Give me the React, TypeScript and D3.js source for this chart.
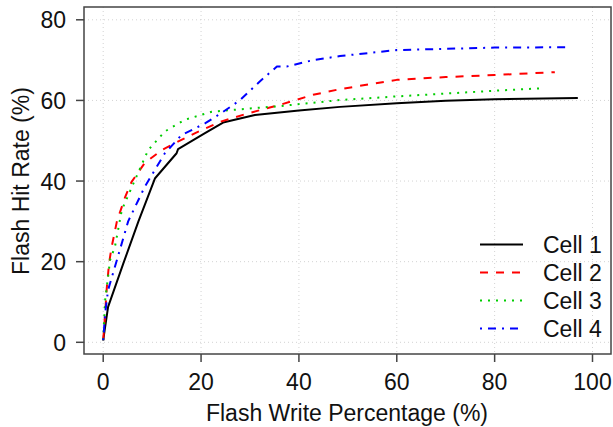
import React from 'react';
import * as d3 from 'd3';

// values
const cell1X = [0, 0.3, 1.0, 4.1, 7.2, 10.6, 15.0, 15.3, 20.8, 24.5, 31, 40, 48.4, 60, 70, 80, 90, 97];
const cell1Y = [0.5, 3, 8.8, 19.5, 30, 40.7, 46.9, 47.9, 51.9, 54.5, 56.4, 57.5, 58.4, 59.3, 59.9, 60.3, 60.5, 60.6];

const cell2X = [0, 0.4, 0.7, 1.2, 1.7, 2.8, 4.5, 5.8, 8.5, 12, 15, 18.8, 23.9, 29.3, 36.1, 42.9, 48.4, 60, 70, 80, 92.3];
const cell2Y = [0.5, 7.2, 13, 19.6, 23.5, 30, 36.1, 39.8, 44.5, 47.7, 49.6, 51.9, 54.7, 56.7, 58.9, 61.4, 62.8, 65.1, 65.8, 66.3, 67.0];

const cell3X = [0, 0.4, 1.0, 1.4, 2.4, 3.8, 6.5, 9.2, 12.6, 16.7, 22.2, 30, 36.1, 48.4, 60, 70, 80, 89.3];
const cell3Y = [0.5, 10.5, 16.3, 20.4, 23.7, 32.8, 40.3, 47.7, 52.3, 55.2, 57.2, 58, 58.6, 60.1, 61, 61.7, 62.4, 63.0];

const cell4X = [0, 0.4, 1.0, 2.8, 5.1, 8.5, 12.6, 16, 20.8, 24.3, 28, 32, 35.5, 37.5, 42.9, 48.4, 60, 70, 80, 94.7];
const cell4Y = [0.5, 7.2, 13, 20.4, 30, 38.6, 46.9, 51.4, 54.3, 57, 60.1, 64.7, 68.4, 68.4, 70, 71, 72.5, 72.8, 73.1, 73.2];

const seriesNames = ['Cell 1', 'Cell 2', 'Cell 3', 'Cell 4'];
const xTicks = [0, 20, 40, 60, 80, 100];
const yTicks = [0, 20, 40, 60, 80];

const colors = ['#000000', '#FF0000', '#00CD00', '#0000FF'];
const dashes = ['none', '8,8', '2,6', '2,6,8,6'];

export default function App() {
  const width = 613, height = 427;
  const box = { left: 84, right: 611, top: 7, bottom: 354 };
  const font = "'Liberation Sans', Arial, Helvetica, sans-serif";
  const fs = 23;

  const x = d3.scaleLinear().domain([0, 100]).range([103.2, 592.5]);
  const y = d3.scaleLinear().domain([0, 80]).range([342.3, 19.8]);

  const xs = [cell1X, cell2X, cell3X, cell4X];
  const ys = [cell1Y, cell2Y, cell3Y, cell4Y];

  const line = d3.line<[number, number]>()
    .x(d => x(d[0]))
    .y(d => y(d[1]));

  return (
    <svg width={width} height={height}
         style={{ position: 'absolute', left: 0, top: 0, background: '#fff' }}>
      {/* grid */}
      {xTicks.map(t => (
        <line key={'gx' + t} x1={x(t)} x2={x(t)} y1={box.top} y2={box.bottom}
              stroke="#D3D3D3" strokeWidth={1} strokeDasharray="1,3"/>
      ))}
      {yTicks.map(t => (
        <line key={'gy' + t} x1={box.left} x2={box.right} y1={y(t)} y2={y(t)}
              stroke="#D3D3D3" strokeWidth={1} strokeDasharray="1,3"/>
      ))}

      {/* series */}
      {xs.map((xv, i) => (
        <path key={'s' + i}
              d={line(xv.map((v, j) => [v, ys[i][j]] as [number, number])) || ''}
              fill="none" stroke={colors[i]} strokeWidth={2}
              strokeDasharray={dashes[i]} strokeLinejoin="round"/>
      ))}

      {/* box */}
      <rect x={box.left} y={box.top} width={box.right - box.left} height={box.bottom - box.top}
            fill="none" stroke="#444" strokeWidth={1.5}/>

      {/* x axis */}
      {xTicks.map(t => (
        <g key={'xt' + t}>
          <line x1={x(t)} x2={x(t)} y1={box.bottom} y2={box.bottom + 8} stroke="#444" strokeWidth={1.5}/>
          <text x={x(t)} y={390} textAnchor="middle" fontFamily={font} fontSize={fs} fill="#111">{t}</text>
        </g>
      ))}
      <text x={347} y={421} textAnchor="middle" fontFamily={font} fontSize={fs} fill="#111">
        Flash Write Percentage (%)
      </text>

      {/* y axis */}
      {yTicks.map(t => (
        <g key={'yt' + t}>
          <line x1={box.left - 8} x2={box.left} y1={y(t)} y2={y(t)} stroke="#444" strokeWidth={1.5}/>
          <text x={66} y={y(t) + 8.5} textAnchor="end" fontFamily={font} fontSize={fs} fill="#111">{t}</text>
        </g>
      ))}
      <text transform={`translate(28.5,${(y(0) + y(80)) / 2}) rotate(-90)`} textAnchor="middle"
            fontFamily={font} fontSize={fs} fill="#111">
        Flash Hit Rate (%)
      </text>

      {/* legend */}
      {seriesNames.map((name, i) => (
        <g key={'lg' + i} transform={`translate(0,${244.5 + i * 28})`}>
          <line x1={480} x2={523} y1={0} y2={0} stroke={colors[i]} strokeWidth={2}
                strokeDasharray={dashes[i]}/>
          <text x={543} y={8} fontFamily={font} fontSize={fs} fill="#111">{name}</text>
        </g>
      ))}
    </svg>
  );
}
